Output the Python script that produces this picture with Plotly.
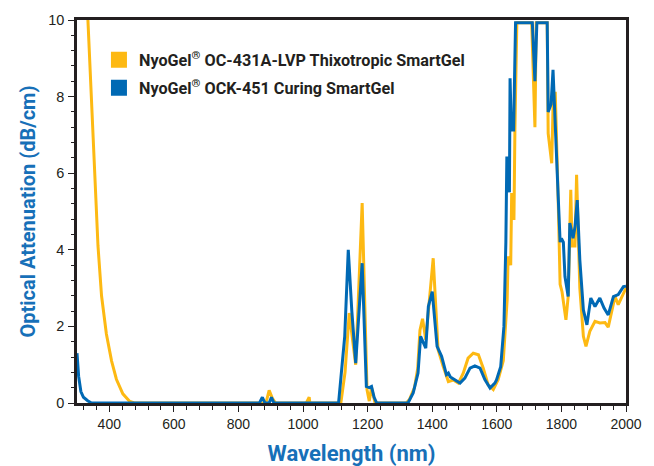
import plotly.graph_objects as go

# ---- data ----
orange_name = "NyoGel<sup>\u00ae</sup> OC-431A-LVP Thixotropic SmartGel"
blue_name = "NyoGel<sup>\u00ae</sup> OCK-451 Curing SmartGel"

orange_nm = [310, 334, 345, 355, 365, 376, 391, 407, 422, 442, 462, 477,
             885, 895, 905, 915, 1010, 1019, 1021,
             1117, 1130, 1143, 1163, 1183, 1198, 1205, 1212, 1223,
             1320, 1330, 1345, 1355, 1362, 1370, 1380, 1403, 1418, 1434, 1450,
             1465, 1481, 1496, 1511, 1527, 1543, 1558, 1573, 1589, 1604, 1620,
             1632, 1635, 1643, 1646, 1653, 1656, 1662, 1708, 1712, 1718, 1722,
             1756, 1759, 1770, 1775, 1781, 1790, 1796, 1802, 1814, 1821, 1829,
             1833, 1842, 1847, 1857, 1868, 1876, 1888, 1904, 1919, 1935, 1945,
             1966, 1976, 1992, 2000]
orange_att = [14.5, 10.0, 7.9, 5.7, 4.1, 2.8, 1.8, 1.1, 0.62, 0.24, 0.05, 0.0,
              0.0, 0.33, 0.12, 0.0, 0.0, 0.15, 0.0,
              0.0, 0.8, 2.35, 1.0, 5.22, 0.35, 0.05, 0.4, 0.0,
              0.0, 0.1, 0.4, 0.9, 1.9, 2.2, 1.65, 3.78, 1.4, 0.95, 0.56,
              0.6, 0.52, 0.78, 1.17, 1.3, 1.26, 0.91, 0.48, 0.35, 0.61, 1.1,
              2.7, 3.83, 3.6, 5.48, 4.78, 7.13, 9.93, 9.93, 8.6, 7.2, 9.93,
              9.93, 7.04, 6.26, 8.09, 8.09, 5.3, 3.1, 2.9, 2.17, 2.78, 5.57,
              4.1, 4.1, 5.96, 3.0, 1.74, 1.48, 1.87, 2.13, 2.09, 2.1, 1.98,
              2.78, 2.57, 2.87, 3.0]

blue_nm = [300, 305, 312, 320, 333, 345,
           865, 874, 882, 895, 902, 910,
           1110, 1129, 1140, 1151, 1163, 1183, 1196, 1205, 1212, 1220, 1228,
           1325, 1341, 1356, 1364, 1380, 1388, 1400, 1415, 1429, 1444, 1450,
           1456, 1470, 1486, 1501, 1517, 1532, 1548, 1563, 1579, 1594, 1599,
           1612, 1622, 1628, 1631, 1635, 1639, 1641, 1645, 1652, 1658, 1710,
           1718, 1724, 1756, 1759, 1768, 1774, 1779, 1790, 1796, 1800, 1806,
           1811, 1821, 1826, 1831, 1836, 1842, 1849, 1857, 1868, 1879, 1891,
           1904, 1919, 1932, 1945, 1961, 1976, 1992, 2000]
blue_att = [1.3, 0.7, 0.3, 0.15, 0.06, 0.0,
            0.0, 0.15, 0.0, 0.0, 0.15, 0.0,
            0.0, 1.74, 4.0, 2.4, 1.04, 3.65, 0.43, 0.4, 0.43, 0.15, 0.0,
            0.0, 0.26, 0.78, 1.74, 1.43, 2.52, 2.91, 1.48, 1.22, 0.74, 0.78,
            0.68, 0.61, 0.52, 0.65, 0.91, 0.97, 0.91, 0.61, 0.39, 0.52, 0.6,
            0.95, 2.0, 4.2, 6.4, 6.4, 5.5, 8.48, 7.13, 7.13, 9.93, 9.93,
            8.4, 9.93, 9.93, 7.6, 7.8, 8.7, 7.5, 5.4, 4.2, 4.3, 4.2,
            3.3, 2.78, 4.7, 4.5, 4.3, 4.6, 5.3, 3.74, 2.43, 2.04, 2.74,
            2.52, 2.74, 2.48, 2.3, 2.78, 2.83, 3.04, 3.05]

x_range = [300, 2000]
y_range = [0, 10]

ORANGE = "#FDB913"
BLUE = "#0069B4"
TITLE_BLUE = "#1770B8"
INK = "#231F20"
BOLD_FONT = "Roboto, Liberation Sans, Arial"

fig = go.Figure()
fig.add_trace(go.Scatter(x=orange_nm, y=orange_att, mode="lines",
                         line=dict(color=ORANGE, width=3), showlegend=False,
                         hoverinfo="skip"))
fig.add_trace(go.Scatter(x=blue_nm, y=blue_att, mode="lines",
                         line=dict(color=BLUE, width=3), showlegend=False,
                         hoverinfo="skip"))
# legend swatches
fig.add_trace(go.Scatter(x=[None], y=[None], mode="markers", name=orange_name,
                         legendgroup="a",
                         marker=dict(symbol="square", size=16, color=ORANGE)))
fig.add_trace(go.Scatter(x=[None], y=[None], mode="markers", name=blue_name,
                         legendgroup="b",
                         marker=dict(symbol="square", size=16, color=BLUE)))

fig.update_layout(
    width=654, height=466,
    margin=dict(l=77, r=28, t=20, b=63),
    paper_bgcolor="white", plot_bgcolor="white",
    font=dict(family="Liberation Sans, Arial", color=INK, size=14),
    legend=dict(x=0.04, y=0.941, xanchor="left", yanchor="top",
                bgcolor="rgba(0,0,0,0)", traceorder="grouped", tracegroupgap=4,
                font=dict(family=BOLD_FONT, size=16.2, color=INK, weight="bold")),
)
fig.update_xaxes(
    range=x_range, dtick=200, tick0=0, showgrid=False, zeroline=False,
    showline=True, linecolor=INK, linewidth=2.5, mirror=True, automargin=False,
    ticks="outside", ticklen=6, tickwidth=1.2, tickcolor=INK,
    minor=dict(dtick=40, tick0=0, ticks="outside", ticklen=4, tickwidth=1.2, tickcolor=INK),
    tickfont=dict(size=14, color=INK),
    title=dict(text="Wavelength (nm)", standoff=16,
               font=dict(family=BOLD_FONT, size=22, color=TITLE_BLUE, weight="bold")),
)
fig.update_yaxes(
    range=y_range, dtick=2, tick0=0, showgrid=False, zeroline=False,
    showline=True, linecolor=INK, linewidth=2.5, mirror=True, automargin=False,
    ticks="outside", ticklen=6, tickwidth=1.2, tickcolor=INK,
    minor=dict(dtick=0.4, tick0=0, ticks="outside", ticklen=3.5, tickwidth=1.2, tickcolor=INK),
    tickfont=dict(size=14.5, color=INK), ticklabelstandoff=1,
    title=dict(text="Optical Attenuation (dB/cm)", standoff=8,
               font=dict(family=BOLD_FONT, size=20, color=TITLE_BLUE, weight="bold")),
)

fig.write_html("out.html", config={"displayModeBar": False},
               post_script="document.body.style.margin='0px';")
